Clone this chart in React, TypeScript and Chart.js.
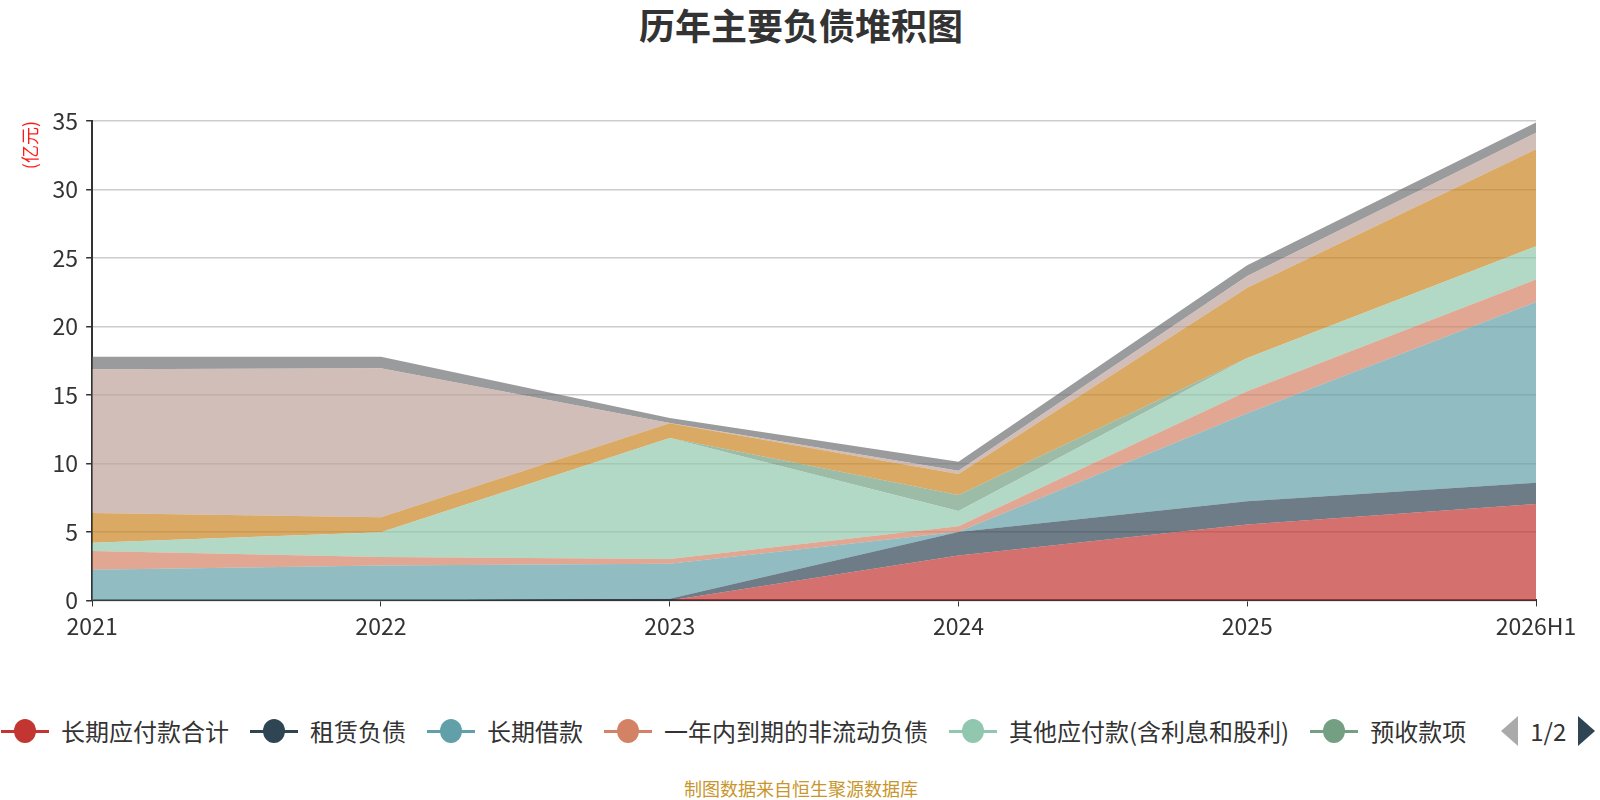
import React, { useEffect, useRef } from "react";
import { Chart, registerables } from "chart.js";

Chart.register(...registerables);

// categories
const years = ["2021", "2022", "2023", "2024", "2025", "2026H1"];

// series values (亿元)
const longTermPayables = [0, 0, 0, 3.28, 5.55, 7.03];
const leaseLiabilities = [0, 0, 0.12, 1.72, 1.68, 1.56];
const longTermLoans = [2.24, 2.54, 2.56, 0.02, 6.44, 13.19];
const currentNonCurrent = [1.37, 0.63, 0.34, 0.4, 1.6, 1.65];
const otherPayables = [0.59, 1.81, 8.83, 1.11, 2.43, 2.43];
const advanceReceipts = [0, 0, 0, 1.17, 0, 0];
const notesAccountsPayable = [2.19, 1.09, 1.08, 1.53, 5.13, 7.08];
const shortTermLoans = [10.49, 10.88, 0.02, 0.23, 0.85, 1.2];
const payrollPayable = [0.9, 0.83, 0.37, 0.67, 0.78, 0.75];

const seriesNames = [
  "长期应付款合计",
  "租赁负债",
  "长期借款",
  "一年内到期的非流动负债",
  "其他应付款(含利息和股利)",
  "预收款项",
  "应付票据及应付账款",
  "短期借款",
  "应付职工薪酬",
];
const seriesData = [
  longTermPayables,
  leaseLiabilities,
  longTermLoans,
  currentNonCurrent,
  otherPayables,
  advanceReceipts,
  notesAccountsPayable,
  shortTermLoans,
  payrollPayable,
];
const palette = ["#c23531", "#2f4554", "#61a0a8", "#d48265", "#91c7ae", "#749f83", "#ca8622", "#bda29a", "#6e7074"];

// only the first legend page is shown
const legendPageSize = 6;

const FONT = '"Noto Sans CJK SC", "Noto Sans", sans-serif';

function hexToRgba(hex: string, a: number) {
  const n = parseInt(hex.slice(1), 16);
  return `rgba(${(n >> 16) & 255}, ${(n >> 8) & 255}, ${n & 255}, ${a})`;
}

export default function App() {
  const canvasRef = useRef<HTMLCanvasElement>(null);

  useEffect(() => {
    document.body.style.margin = "0";
    if (!canvasRef.current) return;
    const chart = new Chart(canvasRef.current, {
      type: "line",
      data: {
        labels: years,
        datasets: seriesNames.map((name, i) => ({
          label: name,
          data: seriesData[i],
          borderColor: "transparent",
          borderWidth: 0,
          backgroundColor: hexToRgba(palette[i], 0.7),
          fill: i === 0 ? "origin" : "-1",
          pointRadius: 0,
          pointHoverRadius: 0,
          tension: 0,
        })),
      },
      options: {
        responsive: false,
        animation: false,
        devicePixelRatio: 1,
        layout: { padding: { top: 121, left: 19, right: 64, bottom: 14 } },
        plugins: {
          legend: { display: false },
          tooltip: { enabled: false },
        },
        scales: {
          x: {
            z: 1,
            grid: { drawOnChartArea: false, tickColor: "#333", tickLength: 6 },
            border: { color: "#333", width: 2 },
            ticks: { color: "#333", font: { family: FONT, size: 23 }, padding: 6, maxRotation: 0 },
          },
          y: {
            stacked: true,
            min: 0,
            max: 35,
            grid: { color: "#ccc", lineWidth: 1.5, tickColor: "#333", tickLength: 6 },
            border: { color: "#333", width: 2 },
            ticks: { stepSize: 5, color: "#333", font: { family: FONT, size: 23 }, padding: 8 },
            title: {
              display: true,
              text: "(亿元)",
              align: "end",
              color: "#ff1a1a",
              font: { family: FONT, size: 18 },
              padding: { top: 0, bottom: 4 },
            },
          },
        },
      },
    });
    return () => chart.destroy();
  }, []);

  return (
    <div style={{ position: "absolute", left: 0, top: 0, width: 1600, height: 800, background: "#fff", fontFamily: FONT, overflow: "hidden" }}>
      <div style={{ position: "absolute", top: 6, left: 801, transform: "translateX(-50%)", fontSize: 36, lineHeight: 1, fontWeight: 700, color: "#333", whiteSpace: "nowrap" }}>
        历年主要负债堆积图
      </div>
      <canvas ref={canvasRef} width={1600} height={660} style={{ position: "absolute", left: 0, top: 0 }} />
      <div style={{ position: "absolute", top: 716, left: 1, display: "flex", alignItems: "center", whiteSpace: "nowrap" }}>
        {seriesNames.slice(0, legendPageSize).map((name, i) => (
          <div key={name} style={{ display: "flex", alignItems: "center", marginRight: 21 }}>
            <div style={{ position: "relative", width: 48, height: 30 }}>
              <div style={{ position: "absolute", left: 0, right: 0, top: 14, height: 3, background: palette[i] }} />
              <div style={{ position: "absolute", left: 13, top: 3, width: 22, height: 24, borderRadius: "50%", background: palette[i] }} />
            </div>
            <span style={{ marginLeft: 12, fontSize: 24, lineHeight: "30px", color: "#333" }}>{name}</span>
          </div>
        ))}
        <div style={{ display: "flex", alignItems: "center", marginLeft: 14 }}>
          <div style={{ width: 0, height: 0, borderTop: "15px solid transparent", borderBottom: "15px solid transparent", borderRight: "17px solid #aaa" }} />
          <span style={{ fontSize: 24, lineHeight: "30px", color: "#333", margin: "0 12px" }}>1/2</span>
          <div style={{ width: 0, height: 0, borderTop: "15px solid transparent", borderBottom: "15px solid transparent", borderLeft: "17px solid #2f4554" }} />
        </div>
      </div>
      <div style={{ position: "absolute", top: 779, left: 801, transform: "translateX(-50%)", fontSize: 18, lineHeight: 1, color: "#c8962d", whiteSpace: "nowrap" }}>
        制图数据来自恒生聚源数据库
      </div>
    </div>
  );
}
